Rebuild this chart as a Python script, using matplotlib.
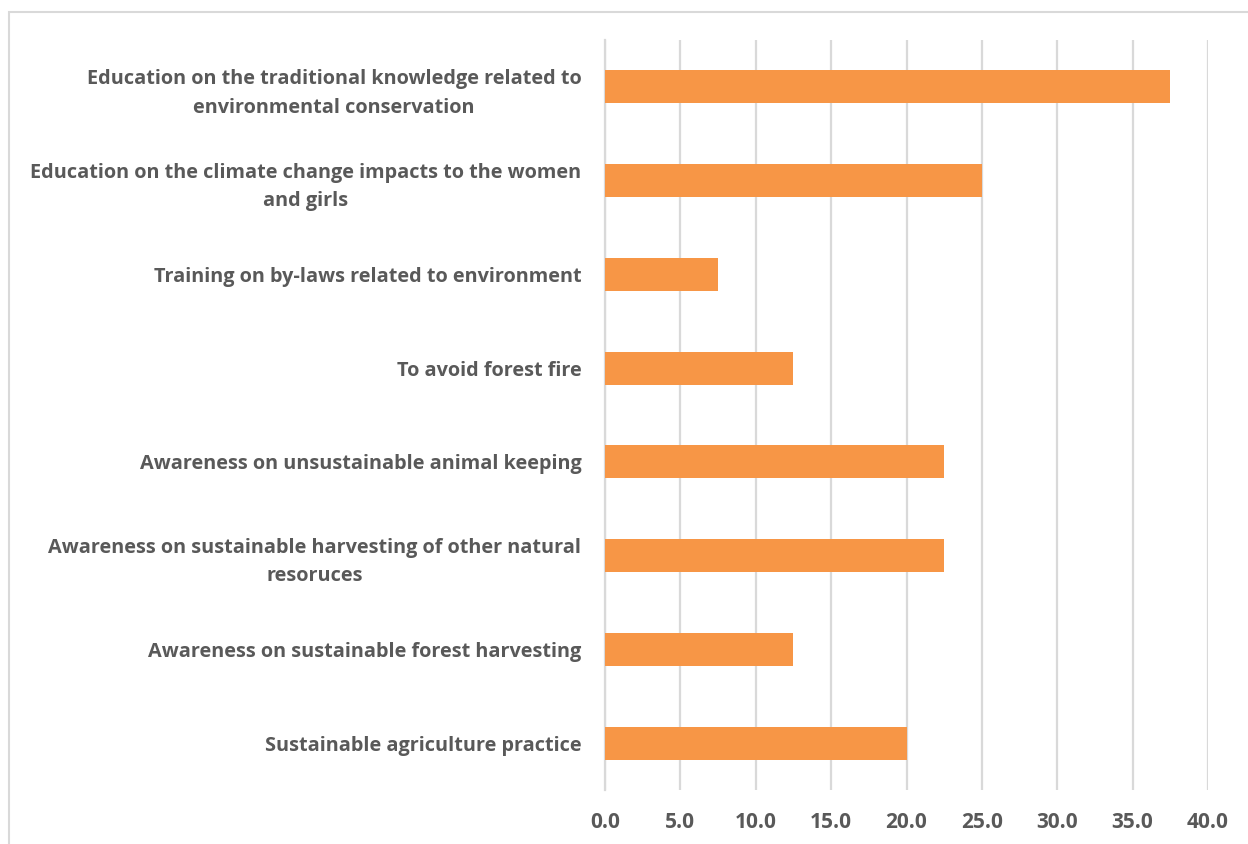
import matplotlib.pyplot as plt
from matplotlib.patches import Rectangle

categories = [
    "Education on the traditional knowledge related to\nenvironmental conservation",
    "Education on the climate change impacts to the women\nand girls",
    "Training on by-laws related to environment",
    "To avoid forest fire",
    "Awareness on unsustainable animal keeping",
    "Awareness on sustainable harvesting of other natural\nresoruces",
    "Awareness on sustainable forest harvesting",
    "Sustainable agriculture practice",
]
values = [37.5, 25.0, 7.5, 12.5, 22.5, 22.5, 12.5, 20.0]
xticks = [0, 5, 10, 15, 20, 25, 30, 35, 40]

text_color = "#595959"
bar_color = "#F79646"
grid_color = "#D9D9D9"

plt.rcParams['font.family'] = ['Open Sans', 'DejaVu Sans']

fig = plt.figure(figsize=(12.48, 8.44), dpi=100)
ax = fig.add_axes([605 / 1248, 54 / 844, 603 / 1248, 750 / 844])

pos = list(range(len(categories)))
ax.barh(pos, values, height=0.35, color=bar_color, zorder=3)

ax.set_ylim(len(categories) - 0.5, -0.5)
ax.set_xlim(0, 40)
ax.set_xticks(xticks)
ax.set_xticklabels([f"{v:.1f}" for v in xticks])
ax.set_yticks(pos)
ax.set_yticklabels(categories, ha='right', multialignment='center',
                   linespacing=1.55)

for lbl in ax.get_xticklabels():
    lbl.set_fontweight('bold')
    lbl.set_color(text_color)
    lbl.set_fontsize(15)
for lbl in ax.get_yticklabels():
    lbl.set_fontweight('bold')
    lbl.set_color(text_color)
    lbl.set_fontsize(14.3)

ax.tick_params(axis='x', length=0, pad=16)
ax.tick_params(axis='y', length=0, pad=17)
ax.grid(axis='x', color=grid_color, linewidth=1.6, zorder=0)
for s in ['top', 'right', 'bottom']:
    ax.spines[s].set_visible(False)
ax.spines['left'].set_color(grid_color)
ax.spines['left'].set_linewidth(1.6)

# outer chart frame
fig.patches.append(Rectangle((9 / 1248, -0.1), 1.2, 1 - 12 / 844 + 0.1,
                             transform=fig.transFigure, fill=False,
                             edgecolor=grid_color, linewidth=1.5))

fig.savefig("out.png", dpi=100)
